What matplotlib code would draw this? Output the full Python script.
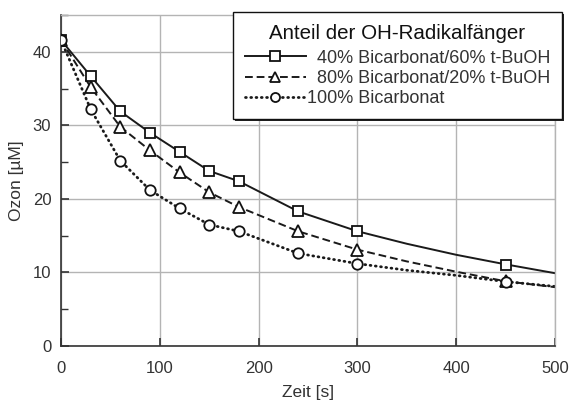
import matplotlib
matplotlib.use("Agg")
import matplotlib.pyplot as plt
from matplotlib.ticker import MultipleLocator
from matplotlib.patches import Rectangle

plt.rcParams['font.family'] = ['Liberation Sans', 'DejaVu Sans']

# Measurement times (s) and ozone concentrations (µM)
zeit = [0, 30, 60, 90, 120, 150, 180, 240, 300, 450]
ozon_40 = [41.6, 36.7, 31.9, 29.0, 26.4, 23.8, 22.4, 18.3, 15.6, 11.0]
ozon_80 = [41.6, 35.2, 29.8, 26.6, 23.6, 20.9, 18.9, 15.6, 13.1, 8.8]
ozon_100 = [41.6, 32.2, 25.2, 21.2, 18.7, 16.5, 15.6, 12.6, 11.2, 8.75]

# Fitted decay curves
kurve_zeit = [0, 30, 60, 90, 120, 150, 180, 240, 300, 350, 400, 450, 500]
kurve_40 = [41.6, 36.7, 31.9, 29.0, 26.4, 23.8, 22.4, 18.3, 15.6, 13.9, 12.4, 11.1, 9.9]
kurve_80 = [41.6, 35.2, 29.8, 26.6, 23.6, 20.9, 18.9, 15.6, 13.1, 11.5, 10.1, 8.8, 8.0]
kurve_100 = [41.6, 32.2, 25.2, 21.2, 18.7, 16.5, 15.6, 12.6, 11.2, 10.3, 9.6, 8.75, 8.1]

labels = ["  40% Bicarbonat/60% t-BuOH", "  80% Bicarbonat/20% t-BuOH", "100% Bicarbonat"]
legend_title = "Anteil der OH-Radikalfänger"

text_color = "#333333"
grid_color = "#b4b4b4"

fig = plt.figure(figsize=(5.70, 4.03), dpi=100)
ax = fig.add_axes([61 / 570, (403 - 346) / 403, 494 / 570, (346 - 15) / 403])

styles = [
    dict(ls="-", marker="s", ms=7.5, dashes=None),
    dict(ls="--", marker="^", ms=8.0, dashes=(4, 2)),
    dict(ls=":", marker="o", ms=7.5, dashes=(0.3, 1.6)),
]
series = [(ozon_40, kurve_40), (ozon_80, kurve_80), (ozon_100, kurve_100)]

handles = []
for (pts, curve), st, lab in zip(series, styles, labels):
    line_kw = dict(color="#1a1a1a", lw=1.4 if st["ls"] != ":" else 2.0)
    cap = "round" if st["ls"] == ":" else "butt"
    ln, = ax.plot(kurve_zeit, curve, linestyle=st["ls"], dash_capstyle=cap, **line_kw)
    if st["dashes"] is not None:
        ln.set_dashes(st["dashes"])
    ax.plot(zeit, pts, linestyle="none", marker=st["marker"], ms=st["ms"],
            mfc="white", mec="#111111", mew=1.3, zorder=3)
    h, = ax.plot([], [], linestyle=st["ls"], marker=st["marker"], ms=st["ms"] - 1.0,
                 mfc="white", mec="#111111", mew=1.3, dash_capstyle=cap, **line_kw)
    if st["dashes"] is not None:
        h.set_dashes(st["dashes"])
    handles.append(h)

ax.set_xlim(0, 500)
ax.set_ylim(0, 45)
ax.xaxis.set_major_locator(MultipleLocator(100))
ax.yaxis.set_major_locator(MultipleLocator(10))
ax.yaxis.set_minor_locator(MultipleLocator(5))

ax.grid(True, which="major", color=grid_color, lw=1.0)
ax.set_axisbelow(True)
for side in ("top", "right"):
    ax.spines[side].set_color(grid_color)
    ax.spines[side].set_linewidth(1.0)
for side in ("left", "bottom"):
    ax.spines[side].set_color("#333333")
    ax.spines[side].set_linewidth(1.2)

ax.tick_params(which="both", direction="in", colors="#333333", labelcolor=text_color,
               labelsize=12, top=False, right=False)
ax.tick_params(which="major", length=6, width=1.2)
ax.tick_params(which="minor", length=5, width=1.0)
ax.tick_params(axis="x", pad=11)
ax.tick_params(axis="y", pad=7)

ax.set_xlabel("Zeit [s]", fontsize=12.5, color=text_color, labelpad=6)
ax.set_ylabel("Ozon [µM]", fontsize=12.5, color=text_color, labelpad=6)

leg = fig.legend(handles, labels, title=legend_title, loc="upper right",
                 bbox_to_anchor=(562 / 570, 391 / 403), borderaxespad=0,
                 fontsize=13, title_fontsize=14.8, frameon=True, fancybox=False,
                 handlelength=3.4, handletextpad=0.05, labelspacing=0.18,
                 borderpad=0.65)
leg._legend_box.sep = 5
leg.get_frame().set_edgecolor("#111111")
leg.get_frame().set_linewidth(1.0)
leg.get_frame().set_alpha(1.0)
for t in leg.get_texts():
    t.set_color(text_color)
leg.get_title().set_color("#111111")

# Thin drop shadow behind the legend box
fig.canvas.draw()
bb = leg.get_window_extent()
shadow = Rectangle((bb.x0 + 2, bb.y0 - 2), bb.width, bb.height,
                   transform=None, facecolor="#222222", edgecolor="none",
                   zorder=leg.get_zorder() - 0.1)
fig.patches.append(shadow)

fig.savefig("out.png", dpi=100)
